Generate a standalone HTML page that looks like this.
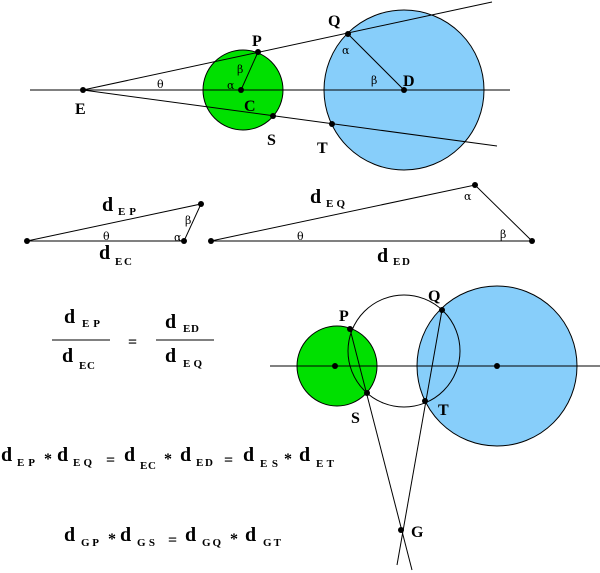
<!DOCTYPE html>
<html><head><meta charset="utf-8"><style>
html,body{margin:0;padding:0;background:#fff;}
svg{display:block;}
text{font-family:"Liberation Serif",serif;font-weight:bold;fill:#000;}
.g{font-family:"DejaVu Serif","Liberation Serif",serif;font-weight:normal;font-size:11px;}
.L{font-size:16px;}
.d{font-size:20px;}
.s{font-size:11px;}
.o{font-size:16px;}
</style></head><body>
<svg width="600" height="573" viewBox="0 0 600 573" xmlns="http://www.w3.org/2000/svg">
<g stroke="#000" stroke-width="1" fill="none">
<circle cx="243" cy="90" r="40" fill="#00e000"/>
<circle cx="404" cy="90" r="80" fill="#87cefa"/>
<line x1="30" y1="90" x2="510" y2="90"/>
<line x1="83" y1="90" x2="492" y2="2"/>
<line x1="83" y1="90" x2="497" y2="146"/>
<line x1="241" y1="90" x2="258" y2="52"/>
<line x1="348" y1="34" x2="404" y2="90"/>
<polyline points="27,241 184,241 201,204 27,241"/>
<polyline points="211,241 532,241 475,185 211,241"/>
<circle cx="337" cy="366" r="40" fill="#00e000"/>
<circle cx="497" cy="366" r="80" fill="#87cefa"/>
<circle cx="404" cy="351" r="56"/>
<line x1="270" y1="366" x2="600" y2="366"/>
<line x1="350" y1="329" x2="412" y2="570"/>
<line x1="442" y1="310" x2="397" y2="565"/>
<line x1="52" y1="340" x2="110" y2="340"/>
<line x1="156" y1="340" x2="214" y2="340"/>
</g>
<g fill="#000">
<circle cx="83" cy="90" r="3"/><circle cx="241" cy="90" r="3"/><circle cx="404" cy="90" r="3"/>
<circle cx="258" cy="52" r="3"/><circle cx="348" cy="34" r="3"/><circle cx="273" cy="116" r="3"/><circle cx="332" cy="124" r="3"/>
<circle cx="27" cy="241" r="3"/><circle cx="184" cy="241" r="3"/><circle cx="201" cy="204" r="3"/>
<circle cx="211" cy="241" r="3"/><circle cx="532" cy="241" r="3"/><circle cx="475" cy="185" r="3"/>
<circle cx="335" cy="366" r="3"/><circle cx="497" cy="366" r="3"/>
<circle cx="350" cy="329" r="3"/><circle cx="442" cy="310" r="3"/><circle cx="367" cy="393" r="3"/><circle cx="425" cy="401" r="3"/><circle cx="401" cy="530" r="3"/>
</g>
<text class="L" x="252" y="46">P</text>
<text class="L" x="328" y="26">Q</text>
<text class="L" x="403" y="86">D</text>
<text class="L" x="244" y="111">C</text>
<text class="L" x="75" y="114">E</text>
<text class="L" x="267" y="145">S</text>
<text class="L" x="317" y="153">T</text>
<text class="g" x="157" y="88">θ</text>
<text class="g" x="227" y="89">α</text>
<text class="g" x="237" y="73">β</text>
<text class="g" x="342" y="54">α</text>
<text class="g" x="371" y="84">β</text>
<text class="g" x="103" y="240">θ</text>
<text class="g" x="174" y="241">α</text>
<text class="g" x="185" y="224">β</text>
<text class="g" x="297" y="240">θ</text>
<text class="g" x="500" y="238">β</text>
<text class="g" x="464" y="200">α</text>
<text class="d" x="102" y="211">d</text><text class="s" x="118" y="215" textLength="18">EP</text>
<text class="d" x="99" y="259">d</text><text class="s" x="115" y="265" textLength="17">EC</text>
<text class="d" x="310" y="203">d</text><text class="s" x="326" y="207" textLength="19">EQ</text>
<text class="d" x="377" y="262">d</text><text class="s" x="393" y="265" textLength="17">ED</text>
<text class="L" x="339" y="321">P</text>
<text class="L" x="428" y="301">Q</text>
<text class="L" x="351" y="423">S</text>
<text class="L" x="438" y="415">T</text>
<text class="L" x="411" y="537">G</text>
<!-- fractions -->
<text class="d" x="64" y="323">d</text><text class="s" x="82" y="327" textLength="18">EP</text>
<text class="d" x="62" y="362">d</text><text class="s" x="79" y="369" textLength="16">EC</text>
<text class="d" x="165" y="328">d</text><text class="s" x="183" y="332" textLength="16">ED</text>
<text class="d" x="165" y="362">d</text><text class="s" x="183" y="367" textLength="19">EQ</text>
<text class="o" x="128" y="347">=</text>
<!-- long equation -->
<text class="d" x="1" y="461">d</text><text class="s" x="17" y="466" textLength="18">EP</text>
<text class="o" x="44" y="464">*</text>
<text class="d" x="57" y="461">d</text><text class="s" x="73" y="466" textLength="19">EQ</text>
<text class="o" x="106" y="465">=</text>
<text class="d" x="124" y="461">d</text><text class="s" x="140" y="469" textLength="16">EC</text>
<text class="o" x="164" y="464">*</text>
<text class="d" x="180" y="461">d</text><text class="s" x="196" y="466" textLength="17">ED</text>
<text class="o" x="224" y="465">=</text>
<text class="d" x="243" y="461">d</text><text class="s" x="260" y="467" textLength="18">ES</text>
<text class="o" x="284" y="464">*</text>
<text class="d" x="299" y="461">d</text><text class="s" x="316" y="467" textLength="18">ET</text>
<!-- last equation -->
<text class="d" x="64" y="541">d</text><text class="s" x="81" y="546" textLength="18">GP</text>
<text class="o" x="108" y="544">*</text>
<text class="d" x="120" y="541">d</text><text class="s" x="137" y="546" textLength="18">GS</text>
<text class="o" x="168" y="545">=</text>
<text class="d" x="185" y="541">d</text><text class="s" x="202" y="546" textLength="19">GQ</text>
<text class="o" x="230" y="544">*</text>
<text class="d" x="245" y="541">d</text><text class="s" x="263" y="546" textLength="18">GT</text>
</svg>
</body></html>
